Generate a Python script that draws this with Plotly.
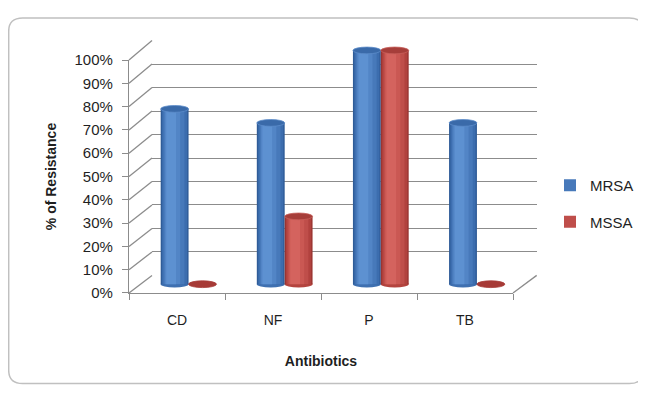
import plotly.graph_objects as go

# ---------------- data ----------------
categories = ["CD", "NF", "P", "TB"]
mrsa = [75, 69, 100, 69]
mssa = [0, 29, 100, 0]
tick_values = [0, 10, 20, 30, 40, 50, 60, 70, 80, 90, 100]
tick_labels = ["0%", "10%", "20%", "30%", "40%", "50%", "60%", "70%", "80%", "90%", "100%"]
series_names = ["MRSA", "MSSA"]

# ---------------- geometry (page pixels; page body has an 8px margin) ----------------
OFF = 8
W, H = 646 - OFF, 394 - OFF
FONT = "Liberation Sans, Arial, sans-serif"
GRID = "#8c8c8c"
TXT = "#1f1f1f"

def px_x(x):
    return (x - OFF) / W

def px_y(y):
    return 1 - (y - OFF) / H

# front (axis) frame
front_x = [px_x(129), px_x(513)]
front_y = [px_y(296.7), px_y(53)]
# back wall frame
back_x = [px_x(152), px_x(536.7)]
back_y = [px_y(278.3), px_y(32.7)]
# bar (mid depth) frame: 0 -> 287.5px, 100 -> 43px
bar_x = [px_x(140.5), px_x(525)]
ppu = (287.5 - 43) / 100.0
bar_y = [px_y(287.5 + 5 * ppu), px_y(43 - 5 * ppu)]

fig = go.Figure()

# invisible traces to register each subplot
fig.add_trace(go.Scatter(x=[0.5], y=[50], xaxis="x", yaxis="y", mode="markers",
                         marker=dict(opacity=0), showlegend=False, hoverinfo="skip"))
fig.add_trace(go.Scatter(x=categories, y=[0] * len(categories), xaxis="x2", yaxis="y2",
                         mode="markers", marker=dict(opacity=0), showlegend=False,
                         hoverinfo="skip"))

BW = 0.29
blue_layers = [(0.0, 1.0, "#2f5c98"), (0.05, 0.9, "#3c6dae"), (0.1, 0.75, "#4779ba"),
               (0.15, 0.55, "#5285c6"), (0.2, 0.35, "#5d91d1")]
red_layers = [(0.0, 1.0, "#9a3532"), (0.05, 0.9, "#b1423e"), (0.1, 0.75, "#bf4e4a"),
              (0.15, 0.55, "#ca5853"), (0.2, 0.35, "#d4635e")]

xs = list(range(len(categories)))
for name, vals, layers, base_off in [(series_names[0], mrsa, blue_layers, -BW),
                                     (series_names[1], mssa, red_layers, 0.0)]:
    for k, (lo, frac, col) in enumerate(layers):
        fig.add_trace(go.Bar(
            x=xs, y=vals, xaxis="x3", yaxis="y3",
            offset=base_off + lo * BW, width=frac * BW,
            marker=dict(color=col, line=dict(width=0)),
            name=name, legendgroup=name,
            showlegend=(k == 2), hoverinfo="skip",
        ))

shapes = []
# rounded border
x0b, x1b, y0b, y1b, r = 8.7, 643.3, 9, 391.5, 14
pts = (f"M {px_x(x0b + r)},{px_y(y0b)} L {px_x(x1b - r)},{px_y(y0b)} "
       f"Q {px_x(x1b)},{px_y(y0b)} {px_x(x1b)},{px_y(y0b + r)} "
       f"L {px_x(x1b)},{px_y(y1b - r)} Q {px_x(x1b)},{px_y(y1b)} {px_x(x1b - r)},{px_y(y1b)} "
       f"L {px_x(x0b + r)},{px_y(y1b)} Q {px_x(x0b)},{px_y(y1b)} {px_x(x0b)},{px_y(y1b - r)} "
       f"L {px_x(x0b)},{px_y(y0b + r)} Q {px_x(x0b)},{px_y(y0b)} {px_x(x0b + r)},{px_y(y0b)} Z")
shapes.append(dict(type="path", path=pts, xref="paper", yref="paper",
                   line=dict(color="#c0c0c0", width=1.5), layer="below"))

# side wall slanted lines + floor right edge
for v in tick_values:
    yf = front_y[0] + v / 100 * (front_y[1] - front_y[0])
    yb = back_y[0] + v / 100 * (back_y[1] - back_y[0])
    shapes.append(dict(type="line", xref="paper", yref="paper",
                       x0=front_x[0], y0=yf, x1=back_x[0], y1=yb,
                       line=dict(color=GRID, width=1.3), layer="below"))
shapes.append(dict(type="line", xref="paper", yref="paper",
                   x0=front_x[1], y0=front_y[0], x1=back_x[1], y1=back_y[0],
                   line=dict(color=GRID, width=1.3), layer="below"))

# cylinder caps
ER = 1.45
for vals, off, cap, rim, bot in [(mrsa, -BW, "#3a6aa9", "#5c8cc9", "#3f70b0"),
                                 (mssa, 0.0, "#a63e3a", "#c65e59", "#b4443f")]:
    for i, v in enumerate(vals):
        if v > 0:
            shapes.append(dict(type="circle", xref="x3", yref="y3",
                               x0=i + off, x1=i + off + BW, y0=-ER, y1=ER,
                               fillcolor=bot, line=dict(width=0), layer="between"))
        shapes.append(dict(type="circle", xref="x3", yref="y3",
                           x0=i + off, x1=i + off + BW, y0=v - ER, y1=v + ER,
                           fillcolor=cap if v > 0 else "#a63a36",
                           line=dict(color=rim if v > 0 else "#a63a36", width=0.8),
                           layer="above"))

fig.update_layout(
    width=W, height=H,
    margin=dict(l=0, r=0, t=0, b=0),
    paper_bgcolor="white", plot_bgcolor="rgba(0,0,0,0)",
    barmode="overlay",
    font=dict(family=FONT, color=TXT),
    shapes=shapes,
    showlegend=True,
    legend=dict(x=px_x(550), y=px_y(167), xanchor="left", yanchor="top",
                font=dict(size=15, color=TXT, family=FONT),
                tracegroupgap=14, traceorder="grouped", bgcolor="rgba(0,0,0,0)"),
    # back wall
    xaxis=dict(domain=back_x, range=[0, 1], anchor="y", showgrid=False, zeroline=False,
               showline=False, showticklabels=False, ticks=""),
    yaxis=dict(domain=back_y, range=[-0.2, 100.2], anchor="x", tickvals=tick_values,
               showticklabels=False, showgrid=True, gridcolor=GRID, gridwidth=1.3,
               zeroline=False, showline=False, ticks=""),
    # front axes
    xaxis2=dict(domain=front_x, anchor="y2", type="category", categoryorder="array",
                categoryarray=categories, range=[-0.5, len(categories) - 0.5],
                tickson="boundaries", ticks="outside", ticklen=6, tickcolor=GRID,
                tickwidth=1.3, showline=True, linecolor=GRID, linewidth=1.3,
                showgrid=False, zeroline=False, ticklabelstandoff=14,
                tickfont=dict(size=14, color=TXT),
                title=dict(text="<b>Antibiotics</b>", font=dict(size=14, color=TXT),
                           standoff=29)),
    yaxis2=dict(domain=front_y, anchor="x2", range=[0, 100], tickvals=tick_values,
                ticktext=tick_labels, ticks="outside", ticklen=6, tickcolor=GRID,
                tickwidth=1.3, showline=True, linecolor=GRID, linewidth=1.3,
                showgrid=False, zeroline=False, ticklabelstandoff=6,
                tickfont=dict(size=15, color=TXT),
                title=dict(text="<b>% of Resistance</b>", font=dict(size=14, color=TXT),
                           standoff=14)),
    # bars (mid depth)
    xaxis3=dict(domain=bar_x, anchor="y3", range=[-0.5, len(categories) - 0.5],
                visible=False),
    yaxis3=dict(domain=bar_y, anchor="x3", range=[-5, 105], visible=False),
)

fig.write_html("out.html")
